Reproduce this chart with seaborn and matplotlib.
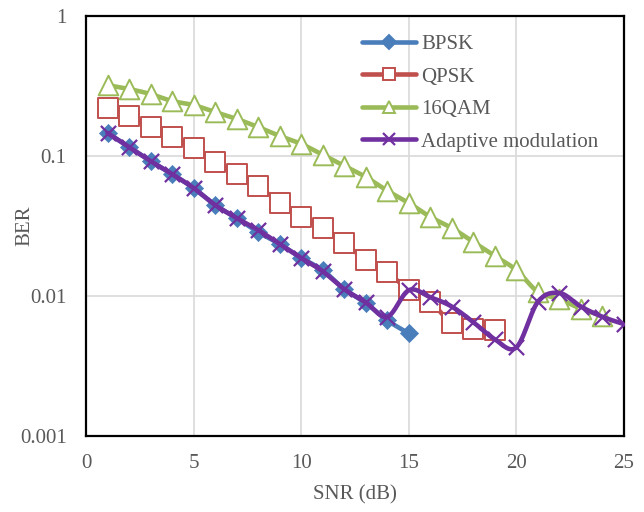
import numpy as np
import pandas as pd
import matplotlib
matplotlib.use("Agg")
import matplotlib.pyplot as plt
from matplotlib.lines import Line2D
from matplotlib.ticker import FixedLocator, FixedFormatter
import seaborn as sns

# ---- data ----
snr_bpsk = list(range(1, 16))
ber_bpsk = [0.146, 0.116, 0.092, 0.0743, 0.059, 0.0447, 0.036, 0.0286, 0.0235,
            0.0187, 0.0153, 0.0112, 0.0089, 0.0067, 0.0054]

snr_qpsk = list(range(1, 20))
ber_qpsk = [0.22, 0.193, 0.161, 0.137, 0.114, 0.0906, 0.0743, 0.061, 0.0462,
            0.0367, 0.0306, 0.0239, 0.0181, 0.0148, 0.011, 0.0091, 0.0064,
            0.0058, 0.0057]

snr_16qam = list(range(1, 25))
ber_16qam = [0.321, 0.301, 0.277, 0.247, 0.231, 0.206, 0.184, 0.161, 0.139,
             0.122, 0.102, 0.085, 0.0708, 0.0565, 0.0462, 0.0367, 0.0306,
             0.0243, 0.0193, 0.0153, 0.0107, 0.0095, 0.0081, 0.0072]

snr_adapt = list(range(1, 26))
ber_adapt = [0.146, 0.116, 0.092, 0.0743, 0.059, 0.0447, 0.036, 0.0296, 0.0235,
             0.0187, 0.0150, 0.0112, 0.0090, 0.0071, 0.011, 0.0098, 0.0084,
             0.0065, 0.0049, 0.0043, 0.0091, 0.0105, 0.0084, 0.0071, 0.0063]

series_names = ["BPSK", "QPSK", "16QAM", "Adaptive modulation"]
x_ticks = [0, 5, 10, 15, 20, 25]
y_ticks = [0.001, 0.01, 0.1, 1]
y_tick_labels = ["0.001", "0.01", "0.1", "1"]

colors = {"BPSK": "#4A7EBB", "QPSK": "#C0504D", "16QAM": "#9BBB59",
          "Adaptive modulation": "#7030A0"}


def smooth(xs, ys, n=24):
    """Excel-like smoothed line (Catmull-Rom Bezier) in x / log10(y) space."""
    px = np.asarray(xs, float)
    py = np.log10(np.asarray(ys, float))
    m = len(px)
    ox, oy = [], []
    for i in range(m - 1):
        i0, i2, i3 = max(i - 1, 0), i + 1, min(i + 2, m - 1)
        p0 = np.array([px[i], py[i]])
        p3 = np.array([px[i2], py[i2]])
        c1 = p0 + (p3 - np.array([px[i0], py[i0]])) / 6.0
        c2 = p3 - (np.array([px[i3], py[i3]]) - p0) / 6.0
        t = np.linspace(0, 1, n, endpoint=(i == m - 2))
        b = ((1 - t) ** 3)[:, None] * p0 + (3 * (1 - t) ** 2 * t)[:, None] * c1 \
            + (3 * (1 - t) * t ** 2)[:, None] * c2 + (t ** 3)[:, None] * p3
        ox.extend(b[:, 0]); oy.extend(b[:, 1])
    return pd.DataFrame({"x": ox, "y": 10 ** np.asarray(oy)})


sns.set_theme(style="white")
plt.rcParams["font.family"] = ["Liberation Serif", "DejaVu Serif"]

FS = 15

fig = plt.figure(figsize=(6.44, 5.12), dpi=100)
ax = fig.add_axes([86 / 644, 1 - 436 / 512, (624 - 86) / 644, (436 - 16) / 512])

styles = {
    "BPSK": dict(marker="D", s=85, facecolor="#4A7EBB", edgecolor="#4A7EBB", lw=0.5),
    "QPSK": dict(marker="s", s=190, facecolor="white", edgecolor="#C0504D", lw=1.4),
    "16QAM": dict(marker="^", s=200, facecolor="white", edgecolor="#9BBB59", lw=1.4),
    "Adaptive modulation": dict(marker="x", s=120, facecolor="#7030A0",
                                edgecolor="#7030A0", lw=1.6),
}

data = [("BPSK", snr_bpsk, ber_bpsk), ("QPSK", snr_qpsk, ber_qpsk),
        ("16QAM", snr_16qam, ber_16qam), ("Adaptive modulation", snr_adapt, ber_adapt)]

for z, (name, xs, ys) in enumerate(data):
    c = colors[name]
    sm = smooth(xs, ys)
    sns.lineplot(data=sm, x="x", y="y", ax=ax, color=c, lw=3.3, sort=False,
                 estimator=None, zorder=3 + 2 * z, legend=False)
    st = styles[name]
    pts = pd.DataFrame({"x": xs, "y": ys})
    if st["marker"] == "x":
        sns.scatterplot(data=pts, x="x", y="y", ax=ax, marker="x", s=st["s"],
                        color=c, linewidth=st["lw"], zorder=4 + 2 * z, legend=False)
    else:
        sns.scatterplot(data=pts, x="x", y="y", ax=ax, marker=st["marker"], s=st["s"],
                        facecolor=st["facecolor"], edgecolor=st["edgecolor"],
                        linewidth=st["lw"], zorder=4 + 2 * z, legend=False)

ax.set_yscale("log")
ax.set_xlim(0, 25)
ax.set_ylim(0.001, 1)
ax.xaxis.set_major_locator(FixedLocator(x_ticks))
ax.yaxis.set_major_locator(FixedLocator(y_ticks))
ax.yaxis.set_major_formatter(FixedFormatter(y_tick_labels))
ax.yaxis.set_minor_locator(FixedLocator([]))
ax.grid(True, which="major", color="#D9D9D9", lw=1.2)
ax.set_axisbelow(True)
for sp in ax.spines.values():
    sp.set_color("black")
    sp.set_linewidth(1.6)
ax.tick_params(axis="both", length=0, labelsize=FS, labelcolor="#595959")
ax.tick_params(axis="y", pad=14)
ax.tick_params(axis="x", pad=13)
ax.set_xlabel("SNR (dB)", fontsize=FS, color="#595959", labelpad=9)
ax.set_ylabel("BER", fontsize=FS, color="#595959")
ax.yaxis.set_label_coords(-0.096, 0.5)

handles = []
for name in series_names:
    st = styles[name]
    c = colors[name]
    if st["marker"] == "x":
        h = Line2D([], [], color=c, lw=3.3, marker="x", markersize=9,
                   markeredgewidth=1.6, markeredgecolor=c)
    else:
        h = Line2D([], [], color=c, lw=3.3, marker=st["marker"],
                   markersize={"D": 7, "s": 9, "^": 9}[st["marker"]],
                   markerfacecolor=st["facecolor"], markeredgecolor=st["edgecolor"],
                   markeredgewidth=1.4)
    handles.append(h)
leg = ax.legend(handles, series_names, loc="upper left",
                bbox_to_anchor=(0.513, 0.956), frameon=False,
                fontsize=FS, handlelength=2.6, handletextpad=0.25,
                labelspacing=0.62, borderaxespad=0.0, borderpad=0.0)
for t in leg.get_texts():
    t.set_color("#595959")

fig.savefig("out.png", dpi=100)
